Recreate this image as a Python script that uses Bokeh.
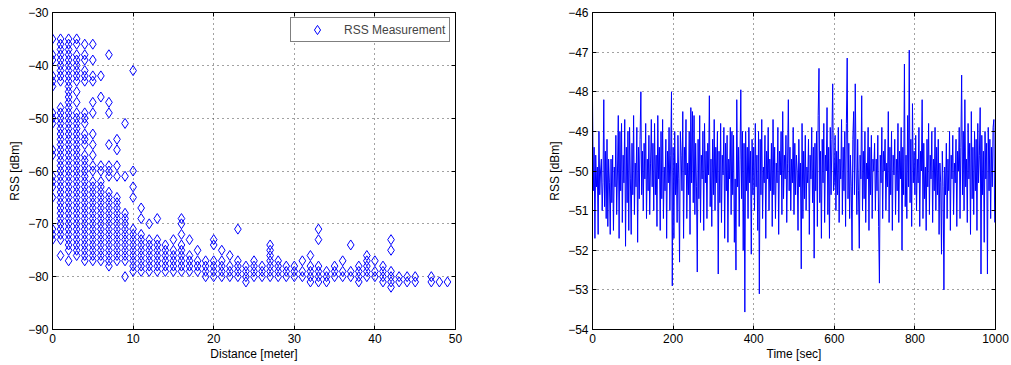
import numpy as np
from bokeh.plotting import figure
from bokeh.models import Range1d, LinearAxis, FixedTicker, Legend, LegendItem
from bokeh.layouts import row
from bokeh.embed import file_html
from bokeh.resources import INLINE

# ---------------- data: left panel (RSS vs distance) ----------------
distances = [0, 1, 2, 3, 4, 5, 6, 7, 8, 9, 10, 11, 12, 13, 14, 15, 16, 17, 18, 19,
             20, 21, 22, 23, 24, 25, 26, 27, 28, 29, 30, 31, 32, 33, 34, 35, 36, 37,
             38, 39, 40, 41, 42, 43, 44, 45, 47, 48, 49]
rss_at_distance = [
    [-35, -38, -39, -42, -43, -44, -49, -50, -51, -56, -57, -61, -62, -63, -65, -71, -72, -73],
    [-35, -36, -37, -38, -39, -40, -41, -42, -43, -48, -49, -50, -51, -52, -53, -54, -55, -56,
     -57, -58, -59, -60, -61, -62, -63, -64, -65, -66, -67, -68, -69, -70, -71, -72, -73, -76],
    [-35, -36, -37, -38, -39, -40, -41, -42, -43, -44, -45, -46, -47, -48, -49, -50, -51, -52,
     -53, -54, -55, -56, -57, -58, -59, -60, -61, -62, -63, -64, -65, -66, -67, -68, -69, -70,
     -71, -72, -73, -74, -75, -77],
    [-35, -36, -38, -39, -40, -41, -42, -43, -45, -47, -49, -50, -51, -52, -53, -54, -55, -56,
     -57, -58, -59, -60, -61, -62, -63, -64, -65, -66, -67, -68, -69, -70, -71, -72, -73, -74,
     -75, -76],
    [-36, -38, -39, -41, -42, -43, -49, -50, -51, -53, -54, -55, -57, -58, -59, -60, -61, -62,
     -63, -64, -65, -66, -67, -68, -69, -70, -71, -72, -73, -74, -75, -76, -77],
    [-36, -39, -42, -43, -47, -49, -53, -55, -57, -59, -60, -62, -63, -64, -65, -66, -67, -68,
     -69, -70, -71, -72, -73, -74, -75, -76, -77],
    [-42, -46, -59, -60, -62, -63, -64, -65, -66, -67, -68, -69, -70, -71, -72, -73, -74, -75,
     -76, -77],
    [-38, -47, -49, -55, -59, -60, -61, -64, -65, -66, -67, -68, -69, -70, -71, -72, -73, -74,
     -75, -76, -77, -78],
    [-54, -56, -59, -61, -65, -66, -67, -68, -69, -70, -71, -72, -73, -74, -75, -76, -77],
    [-51, -61, -68, -69, -70, -71, -72, -73, -74, -75, -76, -77, -80],
    [-41, -60, -63, -65, -71, -72, -73, -74, -75, -76, -77, -78, -79],
    [-67, -69, -72, -73, -74, -75, -76, -77, -78, -79],
    [-70, -73, -74, -75, -76, -77, -78, -79],
    [-69, -73, -74, -75, -76, -77, -78, -79],
    [-74, -75, -76, -77, -78, -79],
    [-73, -75, -76, -77, -78, -79],
    [-69, -70, -72, -74, -75, -76, -77, -78, -79],
    [-73, -76, -77, -78, -79],
    [-75, -77, -78, -79],
    [-77, -78, -79, -80],
    [-73, -74, -77, -78, -79, -80],
    [-75, -77, -78, -79, -80],
    [-76, -78, -79, -80],
    [-71, -77, -78, -79, -80],
    [-78, -79, -80, -81],
    [-77, -78, -79, -80],
    [-78, -79, -80],
    [-74, -75, -76, -77, -78, -79, -80],
    [-77, -78, -79, -80],
    [-78, -79, -80],
    [-78, -79, -80],
    [-77, -79, -80],
    [-76, -78, -79, -80, -81],
    [-71, -73, -78, -79, -80, -81],
    [-79, -80, -81],
    [-78, -79, -80],
    [-77, -79, -80],
    [-74, -79, -80],
    [-78, -79, -80, -81],
    [-76, -77, -78, -79, -80],
    [-77, -79, -80],
    [-78, -79, -80, -81],
    [-73, -75, -79, -80, -81, -82],
    [-80, -81],
    [-80, -81],
    [-80, -81],
    [-80, -81],
    [-81],
    [-81],
]

# ---------------- data: right panel (RSS vs time) ----------------
time_step_sec = 2
rss_time = [
    -48.2, -50.5, -49.4, -51.7, -49.6, -50.4, -49.9, -51.6, -49.0, -50.6, -50.0, -49.7, -51.0, -50.3, -48.2, -50.9, -49.5, -51.2, -49.2, -51.4, -49.7, -50.3, -51.6, -49.7, -50.8,
    -49.6, -51.5, -49.9, -50.4, -49.1, -51.1, -50.0, -48.6, -51.7, -49.0, -50.5, -48.8, -51.3, -49.6, -50.3, -48.7, -51.9, -49.4, -50.8, -49.0, -51.5, -48.9, -50.2, -51.6, -49.3,
    -50.6, -48.6, -51.1, -49.8, -50.4, -48.9, -51.8, -49.4, -50.7, -49.2, -48.0, -50.6, -49.5, -51.0, -49.3, -50.2, -48.8, -51.2, -49.7, -50.5, -49.1, -51.1, -49.8, -48.7, -50.4,
    -49.3, -51.0, -48.8, -50.6, -49.6, -51.4, -48.6, -50.2, -49.4, -51.5, -49.0, -50.7, -48.7, -51.2, -49.9, -50.5, -49.2, -51.7, -49.5, -50.3, -48.9, -51.0, -49.6, -48.0, -52.9,
    -49.4, -51.7, -49.0, -50.6, -49.8, -51.3, -49.1, -50.2, -52.3, -49.0, -49.6, -50.5, -48.5, -51.7, -49.4, -50.1, -48.7, -51.2, -49.8, -50.6, -49.0, -51.6, -48.4, -50.3, -48.5,
    -50.8, -48.6, -51.1, -49.3, -50.4, -52.55, -49.2, -50.7, -48.6, -51.3, -49.6, -50.2, -49.0, -51.5, -48.8, -50.3, -49.5, -51.2, -49.3, -50.1, -48.1, -50.9, -49.7, -51.4, -49.2,
    -50.6, -48.7, -51.0, -49.4, -50.3, -49.0, -52.6, -49.5, -50.8, -48.8, -51.3, -49.6, -50.1, -48.9, -51.7, -49.3, -50.5, -49.1, -51.8, -49.7, -50.2, -48.9, -51.1, -49.0, -50.6,
    -49.1, -51.8, -50.2, -52.5, -48.2, -50.4, -49.4, -51.4, -49.7, -47.95, -50.7, -49.0, -52.0, -49.3, -53.56, -49.0, -50.5, -49.4, -51.2, -48.9, -50.3, -49.5, -52.1, -49.2, -50.6,
    -49.4, -51.0, -48.8, -50.4, -49.6, -51.5, -49.0, -53.1, -49.2, -50.6, -48.7, -51.2, -49.9, -50.3, -49.1, -51.7, -49.5, -50.2, -48.9, -51.0, -49.7, -50.5, -49.3, -51.4, -48.7,
    -50.6, -49.4, -51.2, -49.8, -50.3, -48.9, -51.6, -49.5, -50.1, -49.0, -51.1, -48.5, -50.7, -49.6, -50.2, -49.1, -51.3, -49.8, -48.2, -50.5, -49.4, -51.0, -49.7, -50.3, -48.9,
    -51.1, -49.3, -50.6, -49.6, -50.0, -51.5, -49.2, -50.4, -49.8, -52.47, -48.8, -51.2, -49.5, -50.7, -49.1, -51.0, -49.9, -50.3, -49.2, -51.6, -49.6, -50.2, -48.9, -50.8, -49.4,
    -52.2, -49.3, -50.5, -49.0, -51.4, -48.6, -47.41, -50.8, -49.5, -51.7, -49.2, -50.3, -48.8, -51.3, -49.6, -50.0, -48.4, -51.1, -49.4, -51.7, -48.9, -50.6, -49.2, -47.8, -50.5,
    -50.3, -49.1, -51.0, -49.5, -50.6, -48.9, -51.3, -49.7, -50.2, -48.7, -51.1, -49.4, -50.5, -49.0, -51.4, -48.8, -47.15, -50.7, -49.3, -51.2, -49.6, -50.4, -52.0, -49.2, -48.5,
    -50.6, -47.8, -49.9, -51.1, -49.2, -50.5, -51.95, -49.6, -50.2, -48.1, -51.0, -49.5, -50.7, -49.0, -51.3, -49.8, -50.2, -48.9, -51.5, -49.4, -50.6, -49.1, -51.2, -49.7, -50.0,
    -49.3, -51.0, -49.7, -50.5, -49.1, -51.4, -52.83, -49.6, -50.3, -48.9, -51.2, -49.5, -50.0, -49.2, -51.0, -49.8, -50.4, -48.5, -51.3, -49.4, -50.6, -49.0, -51.5, -49.6, -50.1,
    -49.2, -51.1, -49.7, -50.5, -48.8, -51.3, -49.5, -50.2, -48.9, -52.0, -49.4, -50.6, -47.3, -50.9, -49.6, -51.2, -48.6, -50.4, -46.95, -50.8, -49.2, -51.4, -48.3, -50.3, -49.5,
    -50.6, -49.1, -51.0, -49.7, -50.3, -48.9, -51.4, -49.5, -50.0, -48.2, -51.2, -49.3, -50.7, -49.9, -51.5, -49.2, -50.4, -48.8, -51.1, -49.6, -50.2, -49.0, -51.3, -49.7, -50.5,
    -48.9, -51.0, -49.4, -50.6, -49.2, -51.6, -49.8, -50.3, -52.1, -49.5, -50.4, -53.0, -49.9, -50.6, -49.3, -51.2, -49.7, -50.5, -49.0, -51.5, -49.6, -50.2, -49.1, -51.1, -49.8,
    -50.3, -49.2, -51.4, -49.5, -50.0, -48.9, -51.2, -49.4, -47.58, -50.6, -49.0, -51.0, -48.2, -50.4, -49.7, -51.3, -48.8, -50.2, -49.3, -51.6, -48.5, -50.7, -49.4, -51.1, -49.0,
    -50.5, -49.2, -51.5, -48.8, -50.3, -49.6, -48.4, -52.6, -49.1, -50.6, -49.5, -51.8, -49.0, -50.2, -49.3, -52.6, -48.9, -50.5, -49.2, -51.2, -49.4, -50.4, -48.9, -48.7, -51.3,
]

left_xticks = [0, 10, 20, 30, 40, 50]
left_yticks = [-90, -80, -70, -60, -50, -40, -30]
right_xticks = [0, 200, 400, 600, 800, 1000]
right_yticks = [-54, -53, -52, -51, -50, -49, -48, -47, -46]

FONT = "Liberation Sans"
BLUE = "#0000ff"


def minus(v):
    return str(v).replace("-", "\u2212")


def style(p, xt, yt, xlabel, ylabel):
    p.outline_line_color = "black"
    p.outline_line_width = 1
    p.background_fill_color = "white"
    p.border_fill_color = "white"
    for ax, ticks in ((p.xaxis[0], xt), (p.yaxis[0], yt)):
        ax.ticker = FixedTicker(ticks=ticks)
        ax.major_label_overrides = {t: minus(t) for t in ticks}
        ax.major_label_text_font = FONT
        ax.major_label_text_font_size = "12px"
        ax.major_label_text_color = "black"
        ax.axis_label_text_font = FONT
        ax.axis_label_text_font_size = "12px"
        ax.axis_label_text_font_style = "normal"
        ax.axis_label_text_color = "black"
        ax.major_tick_in = 4
        ax.major_tick_out = 0
        ax.minor_tick_line_color = None
        ax.axis_line_color = "black"
        ax.major_tick_line_color = "black"
    p.xaxis[0].axis_label = xlabel
    p.yaxis[0].axis_label = ylabel
    p.xaxis[0].major_label_standoff = 4
    p.xaxis[0].axis_label_standoff = 1
    p.yaxis[0].major_label_standoff = 4
    p.yaxis[0].axis_label_standoff = 3
    # mirrored inside ticks on top and right (no labels drawn)
    for loc, ticks in (("above", xt), ("right", yt)):
        a = LinearAxis(ticker=FixedTicker(ticks=ticks),
                       major_label_text_font_size="0px",
                       major_label_text_color=None,
                       major_label_standoff=0,
                       major_tick_in=4, major_tick_out=0,
                       minor_tick_line_color=None,
                       axis_line_color=None,
                       major_tick_line_color="black")
        p.add_layout(a, loc)
    for g, ticks in ((p.xgrid[0], xt), (p.ygrid[0], yt)):
        g.ticker = FixedTicker(ticks=ticks)
        g.grid_line_color = "#444444"
        g.grid_line_dash = "1 4"
        g.grid_line_width = 1


# ---------------- left figure ----------------
px = []
py = []
for d, vals in zip(distances, rss_at_distance):
    for v in vals:
        px.append(d)
        py.append(v)

p1 = figure(width=520, height=365, output_backend="svg", toolbar_location=None,
            x_range=Range1d(0, 50), y_range=Range1d(-90, -30),
            min_border_left=52, min_border_right=65, min_border_top=12, min_border_bottom=36)
r1 = p1.scatter(px, py, marker="diamond", size=10, fill_color=None,
                line_color=BLUE, line_width=1)
style(p1, left_xticks, left_yticks, "Distance [meter]", "RSS [dBm]")
leg = Legend(items=[LegendItem(label="RSS Measurement", renderers=[r1])],
             location="top_right", margin=5, padding=0, spacing=0,
             glyph_width=52, glyph_height=23, label_height=23, label_width=105,
             label_standoff=1,
             label_text_font=FONT, label_text_font_size="12px",
             border_line_color="black", border_line_width=1,
             background_fill_color="white", background_fill_alpha=1.0)
p1.add_layout(leg, "center")

# ---------------- right figure ----------------
t = [i * time_step_sec for i in range(len(rss_time))]
p2 = figure(width=491, height=365, output_backend="svg", toolbar_location=None,
            x_range=Range1d(0, 1000), y_range=Range1d(-54, -46),
            min_border_left=72, min_border_right=16, min_border_top=12, min_border_bottom=36)
p2.line(t, rss_time, line_color=BLUE, line_width=1)
style(p2, right_xticks, right_yticks, "Time [sec]", "RSS [dBm]")

layout = row(p1, p2)
open("out.html", "w").write(file_html(layout, INLINE))
